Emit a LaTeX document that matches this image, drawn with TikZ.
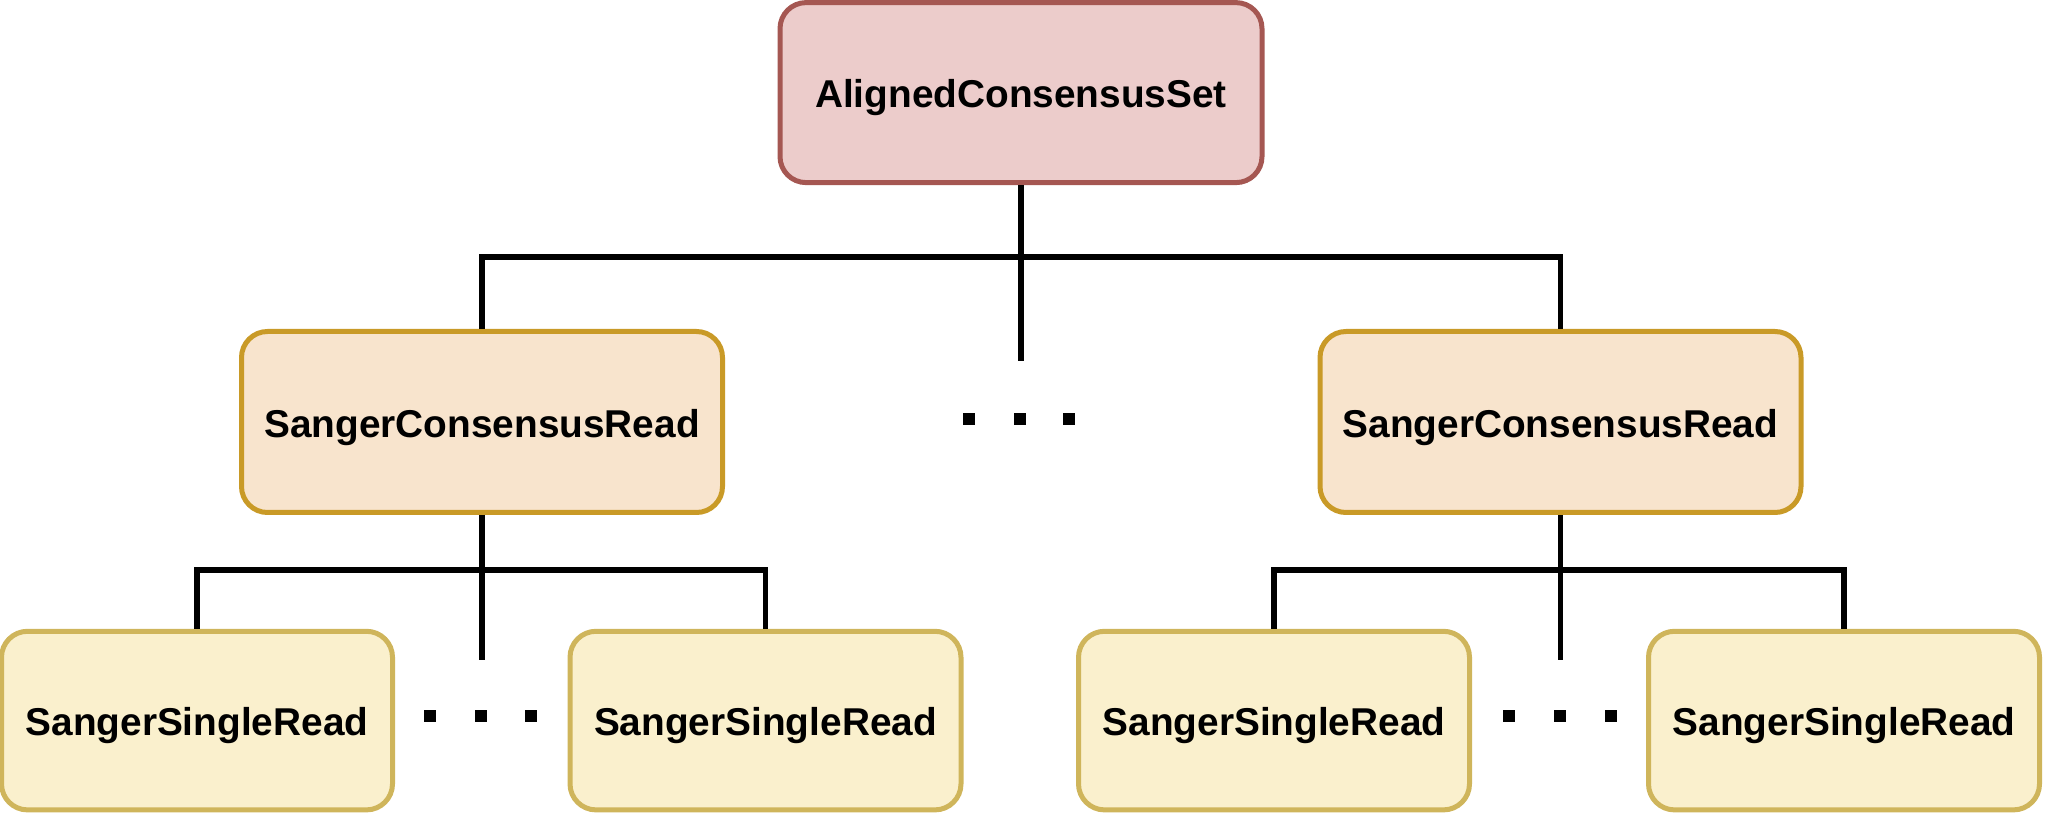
\documentclass[tikz,border=0pt]{standalone}
\usepackage{fontspec}
\setmainfont{Liberation Sans}
\begin{document}
\begin{tikzpicture}[x=0.5pt,y=-0.5pt,
  box/.style={rounded corners=13pt, line width=2.5pt, font=\fontsize{19.4}{23}\selectfont\bfseries, inner sep=0pt, text height=15.3pt, text depth=0pt},
  rootbox/.style={box, draw=rootStroke, fill=rootFill, minimum width=241pt, minimum height=90pt},
  midbox/.style={box, draw=midStroke, fill=midFill, minimum width=240.5pt, minimum height=90.5pt},
  leafbox/.style={box, draw=leafStroke, fill=leafFill, minimum width=195.5pt, minimum height=89.3pt},
  wire/.style={line width=2.9pt, draw=black},
  dot/.style={fill=black, inner sep=0pt, minimum size=6pt}
]
\definecolor{rootFill}{HTML}{ECCCCB}
\definecolor{rootStroke}{HTML}{A55752}
\definecolor{midFill}{HTML}{F8E4CD}
\definecolor{midStroke}{HTML}{C99A27}
\definecolor{leafFill}{HTML}{FAF0CD}
\definecolor{leafStroke}{HTML}{CFB55B}
\useasboundingbox (0,0) rectangle (2045,817);

\node[rootbox] (root) at (1021,92.6) {AlignedConsensusSet};
\node[midbox] (midL) at (482,422) {SangerConsensusRead};
\node[midbox] (midR) at (1560.5,422) {SangerConsensusRead};
\node[leafbox] (l1) at (197,720.6) {SangerSingleRead};
\node[leafbox] (l2) at (765.5,720.6) {SangerSingleRead};
\node[leafbox] (r1) at (1274,720.6) {SangerSingleRead};
\node[leafbox] (r2) at (1844,720.6) {SangerSingleRead};

\coordinate (bus0) at (1021,257);
\coordinate (stub0) at (1021,361);
\coordinate (busL) at (482,570);
\coordinate (stubL) at (482,660);
\coordinate (busR) at (1560.5,570);
\coordinate (stubR) at (1560.5,660);

\draw[wire] (root.south) -- (stub0);
\draw[wire] (midL.north) |- (bus0) -| (midR.north);
\draw[wire] (midL.south) -- (stubL);
\draw[wire] (l1.north) |- (busL) -| (l2.north);
\draw[wire] (midR.south) -- (stubR);
\draw[wire] (r1.north) |- (busR) -| (r2.north);

\node[dot] (d1) at (969,418.6) {};
\node[dot] (d2) at (1020,418.6) {};
\node[dot] (d3) at (1069,418.6) {};
\node[dot] (e1) at (430,716) {};
\node[dot] (e2) at (481,716) {};
\node[dot] (e3) at (531,716) {};
\node[dot] (f1) at (1509,716) {};
\node[dot] (f2) at (1560,716) {};
\node[dot] (f3) at (1611,716) {};
\end{tikzpicture}
\end{document}
